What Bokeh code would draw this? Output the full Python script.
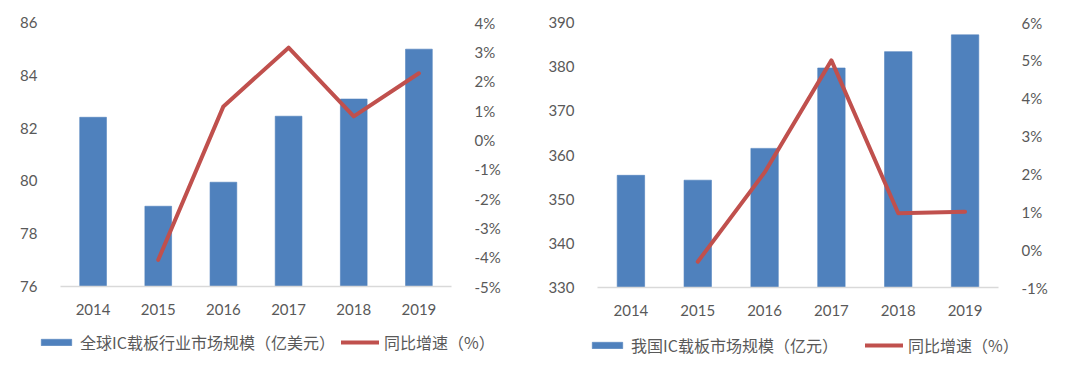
from bokeh.plotting import figure
from bokeh.models import Range1d, LinearAxis, FixedTicker, Legend, LegendItem, FactorRange
from bokeh.layouts import row, column
from bokeh.embed import file_html
from bokeh.resources import INLINE

years = ["2014", "2015", "2016", "2017", "2018", "2019"]
yoy_years = ["2015", "2016", "2017", "2018", "2019"]

global_size = [82.41, 79.04, 79.95, 82.45, 83.10, 84.99]
global_yoy = [-4.09, 1.14, 3.14, 0.80, 2.27]

china_size = [355.4, 354.3, 361.5, 379.7, 383.4, 387.2]
china_yoy = [-0.32, 2.04, 5.0, 0.96, 1.0]

global_left_ticks = [76, 78, 80, 82, 84, 86]
global_right_ticks = [-5, -4, -3, -2, -1, 0, 1, 2, 3, 4]
china_left_ticks = [330, 340, 350, 360, 370, 380, 390]
china_right_ticks = [-1, 0, 1, 2, 3, 4, 5, 6]

bar_label_global = "全球IC载板行业市场规模（亿美元）"
bar_label_china = "我国IC载板市场规模（亿元）"
line_label = "同比增速（%）"

BLUE = "#4F81BD"
RED = "#C0504D"
TEXT = "#595959"
AXIS = "#D9D9D9"
NUM_FONT = "Lato"
CJK_FONT = "Noto Sans CJK SC"


def make_chart(sizes, yoys, lticks, rticks, fw, fh, bl, br, bt, bb):
    p = figure(x_range=FactorRange(*years),
               y_range=Range1d(lticks[0], lticks[-1]),
               frame_width=fw, frame_height=fh,
               min_border_left=bl, min_border_right=br,
               min_border_top=bt, min_border_bottom=bb,
               output_backend="svg", toolbar_location=None)
    p.extra_y_ranges = {"pct": Range1d(rticks[0], rticks[-1])}
    p.outline_line_color = None
    p.xgrid.grid_line_color = None
    p.ygrid.grid_line_color = None
    p.x_range.range_padding = 0
    p.x_range.group_padding = 0

    p.vbar(x=years, top=sizes, bottom=lticks[0], width=0.41,
           fill_color=BLUE, line_color=BLUE, line_alpha=0.6)
    p.line(x=yoy_years, y=yoys, y_range_name="pct",
           line_color=RED, line_width=4, line_join="round", line_cap="round")

    p.xaxis.axis_line_color = AXIS
    p.xaxis.axis_line_width = 1.5
    p.xaxis.major_tick_line_color = None
    p.xaxis.minor_tick_line_color = None
    p.xaxis.major_label_text_font = NUM_FONT
    p.xaxis.major_label_text_font_size = "15px"
    p.xaxis.major_label_text_color = TEXT
    p.xaxis.major_label_standoff = 11

    p.yaxis.ticker = FixedTicker(ticks=lticks)
    p.yaxis.axis_line_color = None
    p.yaxis.major_tick_line_color = None
    p.yaxis.minor_tick_line_color = None
    p.yaxis.major_label_text_font = NUM_FONT
    p.yaxis.major_label_text_font_size = "15px"
    p.yaxis.major_label_text_color = TEXT
    p.yaxis.major_label_standoff = 17

    ra = LinearAxis(y_range_name="pct", ticker=FixedTicker(ticks=rticks),
                    major_label_overrides={t: f"{t}%" for t in rticks})
    ra.axis_line_color = None
    ra.major_tick_line_color = None
    ra.minor_tick_line_color = None
    ra.major_label_text_font = NUM_FONT
    ra.major_label_text_font_size = "15px"
    ra.major_label_text_color = TEXT
    ra.major_label_standoff = 17
    p.add_layout(ra, "right")
    return p


def make_legend(sizes, yoys, lticks, bar_label, width, height, spacing, loc):
    # legend-only strip: series renderers sit outside the visible y range,
    # only their legend swatches are shown
    q = figure(width=width, height=height, x_range=FactorRange(*years),
               y_range=Range1d(1000, 1001),
               x_axis_location=None, y_axis_location=None,
               min_border=0, output_backend="svg", toolbar_location=None)
    q.outline_line_color = None
    q.xgrid.grid_line_color = None
    q.ygrid.grid_line_color = None
    b = q.vbar(x=years, top=sizes, bottom=lticks[0], width=0.41,
               fill_color=BLUE, line_color=BLUE, line_alpha=0.6)
    l = q.line(x=yoy_years, y=yoys, line_color=RED, line_width=4, line_cap="round")
    legend = Legend(items=[LegendItem(label=bar_label, renderers=[b]),
                           LegendItem(label=line_label, renderers=[l])],
                    orientation="horizontal", location=loc,
                    border_line_color=None, background_fill_alpha=0,
                    label_text_font=CJK_FONT, label_text_font_size="16px",
                    label_text_color=TEXT, glyph_width=38, glyph_height=8,
                    label_height=16, label_standoff=5, spacing=spacing,
                    padding=0, margin=0)
    q.add_layout(legend, "center")
    return q


left = make_chart(global_size, global_yoy, global_left_ticks, global_right_ticks,
                  391, 264, 60, 94, 22, 44)
right = make_chart(china_size, china_yoy, china_left_ticks, china_right_ticks,
                   401, 265, 48, 86, 20, 45)
left_leg = make_legend(global_size, global_yoy, global_left_ticks, bar_label_global,
                       545, 34, 6, (37, 10))
right_leg = make_legend(china_size, china_yoy, china_left_ticks, bar_label_china,
                        535, 34, 27, (43, 7))

layout = column(row(left, right), row(left_leg, right_leg))
open("out.html", "w").write(file_html(layout, INLINE))
